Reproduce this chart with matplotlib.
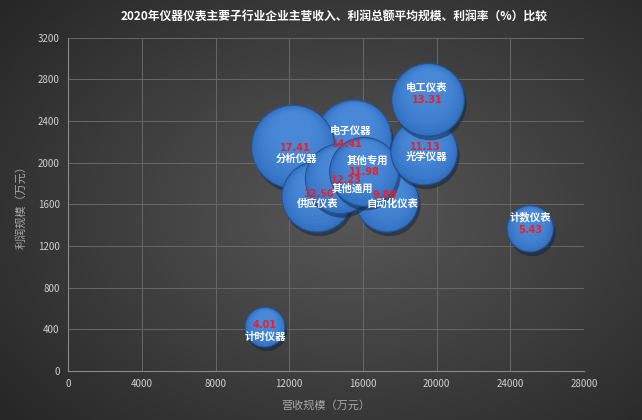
import matplotlib
matplotlib.use('Agg')
import matplotlib.pyplot as plt
import matplotlib.patheffects as pe
from matplotlib.transforms import offset_copy
import numpy as np

plt.rcParams['font.family'] = ['Noto Sans CJK SC', 'DejaVu Sans']

# 数据（营收规模、利润规模：万元；利润率：%）
names = ['电子仪器', '分析仪器', '供应仪表', '自动化仪表', '其他通用',
         '其他专用', '光学仪器', '电工仪表', '计数仪表', '计时仪器']
revenue = [15500, 12210, 13510, 17310, 14760, 16060, 19320, 19530, 25070, 10680]
profit = [2240, 2153, 1672, 1634, 1845, 1912, 2105, 2604, 1365, 420]
rate = [14.41, 17.41, 12.50, 9.88, 12.23, 11.98, 11.13, 13.31, 5.43, 4.01]

# 标签偏移（像素，向下为正）：名称、数值
name_off = [(-3, -7), (3, 12), (0, 7), (5, 3), (12, 10),
            (3, -11), (2, 5), (-1, -12), (0, -11), (0, 10)]
val_off = [(-6, 6), (2, 1), (2, -3), (-3, -6), (6, 1),
           (0, 0), (1, -5), (-1, 0), (0, 1), (0, -2)]

fig = plt.figure(figsize=(6.42, 4.2), dpi=100)

# 背景渐变
bg = fig.add_axes([0, 0, 1, 1], zorder=-1)
gx, gy = np.meshgrid(np.linspace(0, 1, 320), np.linspace(0, 1, 210))
r = np.sqrt(((gx - 0.55) / 0.75) ** 2 + ((gy - 0.5) / 0.8) ** 2)
v = (0x58 - (0x58 - 0x24) * np.clip(r, 0, 1)) / 255.0
bg.imshow(np.dstack([v, v, v]), extent=[0, 1, 0, 1], aspect='auto', origin='lower')
bg.axis('off')

ax = fig.add_axes([0.106, 0.117, 0.804, 0.793])
ax.set_facecolor('none')

smax = 3576.0
sizes = [v_ / max(rate) * smax for v_ in rate]

for i in range(len(names)):
    z = 3 + i * 20
    ax.scatter(revenue[i], profit[i], s=sizes[i], color='#3270c2',
               edgecolor='#24528f', linewidth=0.8, zorder=z,
               path_effects=[pe.SimplePatchShadow(offset=(1.5, -3), alpha=0.5), pe.Normal()])
    rad = np.sqrt(sizes[i]) / 2
    for k in range(8):
        f = 0.9 - k * 0.1
        dy = (1 - np.sqrt(f)) * rad * 0.75
        tr = offset_copy(ax.transData, fig=fig, x=0, y=dy, units='points')
        ax.scatter(revenue[i], profit[i], s=sizes[i] * f, color='#5d9dea',
                   alpha=0.11, linewidth=0, zorder=z + 1 + k, transform=tr)

for i in range(len(names)):
    ax.annotate(names[i], (revenue[i], profit[i]),
                xytext=(name_off[i][0] * 0.72, -name_off[i][1] * 0.72),
                textcoords='offset points', ha='center', va='center',
                color='white', fontsize=7.5, fontweight='bold', zorder=500)
    ax.annotate('%.2f' % rate[i], (revenue[i], profit[i]),
                xytext=(val_off[i][0] * 0.72, -val_off[i][1] * 0.72),
                textcoords='offset points', ha='center', va='center',
                color='#e8202a', fontsize=7, fontweight='bold', zorder=500,
                family=['DejaVu Sans'])

ax.set_xlim(0, 28000)
ax.set_ylim(0, 3200)
ax.set_xticks(range(0, 28001, 4000))
ax.set_yticks(range(0, 3201, 400))
ax.grid(True, color='#686868', linewidth=0.7, zorder=0)
ax.set_axisbelow(True)
for sp in ['top', 'right']:
    ax.spines[sp].set_visible(False)
for sp in ['bottom', 'left']:
    ax.spines[sp].set_color('#8a8a8a')
ax.tick_params(colors='#d0d0d0', labelsize=7, length=0, pad=6)
ax.set_xlabel('营收规模（万元）', color='#a8a8a8', fontsize=8, labelpad=8)
ax.set_ylabel('利润规模（万元）', color='#a8a8a8', fontsize=8, labelpad=8)

fig.text(0.52, 0.96, '2020年仪器仪表主要子行业企业主营收入、利润总额平均规模、利润率（%）比较',
         ha='center', va='center', color='white', fontsize=8.5, fontweight='bold')

fig.savefig('out.png', dpi=100)
